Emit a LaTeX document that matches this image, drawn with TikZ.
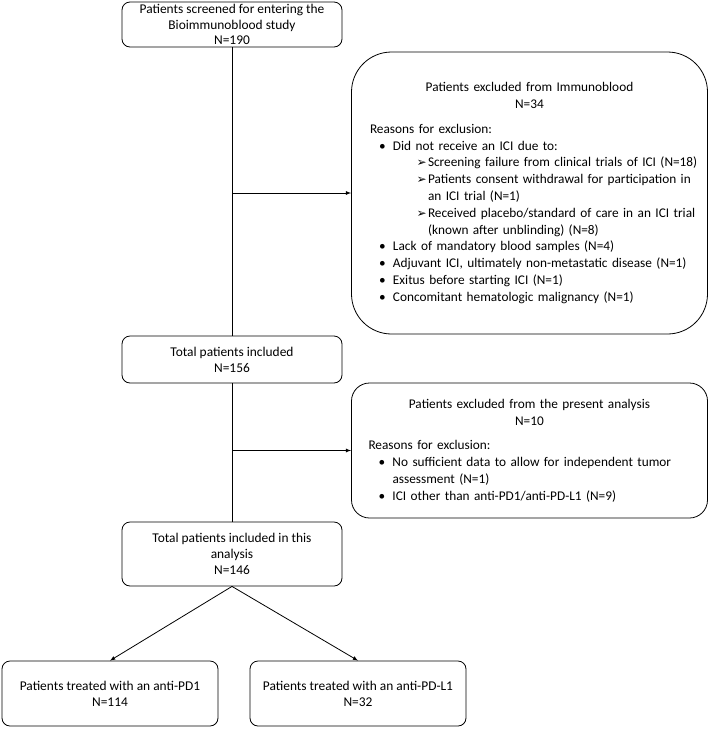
\documentclass[tikz,border=0pt]{standalone}
\usepackage{fontspec}
\setmainfont{Carlito}
\newfontfamily\symfont{DejaVu Sans}
\newcommand{\blt}{\makebox[14pt][l]{\textbullet}}
\newcommand{\arw}{\makebox[11.5pt][l]{\symfont\fontsize{12}{12}\selectfont ➢}}
\begin{document}
\begin{tikzpicture}[x=1pt, y=-1pt, line width=0.8pt,
    box/.style = {draw, rounded corners=8pt, align=center, minimum width=220pt, inner sep=1pt,
                  font=\fontsize{13.4}{16.2}\selectfont},
    excl/.style = {draw, align=left, inner xsep=4pt, inner ysep=0pt, text width=348pt,
                   font=\fontsize{13.3}{16.8}\selectfont},
    arr/.style = {-latex}]
\useasboundingbox (0,0) rectangle (709,729);
\node[box, minimum height=45pt, inner sep=0pt, font=\fontsize{13.4}{15.6}\selectfont] (scr) at (232,24.5) {Patients screened for entering the\\ Bioimmunoblood study\\ N=190};
\node[excl, rounded corners=40pt, minimum width=356pt, minimum height=282pt] (excl1) at (529.5,193) {%
{\centering Patients excluded from Immunoblood\\ N=34\par}
\vspace{8pt}
\hspace*{14.5pt}Reasons for exclusion:\\
\hspace*{23.5pt}\blt Did not receive an ICI due to:\\
\hspace*{61pt}\arw Screening failure from clinical trials of ICI (N=18)\\
\hspace*{61pt}\arw Patients consent withdrawal for participation in\\
\hspace*{72.5pt}an ICI trial (N=1)\\
\hspace*{61pt}\arw Received placebo/standard of care in an ICI trial\\
\hspace*{72.5pt}(known after unblinding) (N=8)\\
\hspace*{23.5pt}\blt Lack of mandatory blood samples (N=4)\\
\hspace*{23.5pt}\blt Adjuvant ICI, ultimately non-metastatic disease (N=1)\\
\hspace*{23.5pt}\blt Exitus before starting ICI (N=1)\\
\hspace*{23.5pt}\blt Concomitant hematologic malignancy (N=1)\par
\vspace*{5pt}};
\node[box, minimum height=47pt] (incl) at (232,359.5) {Total patients included\\ N=156};
\node[excl, rounded corners=18pt, minimum width=355pt, minimum height=135pt] (excl2) at (529.5,450.5) {%
{\centering Patients excluded from the present analysis\\ N=10\par}
\vspace{8pt}
\hspace*{13pt}Reasons for exclusion:\\
\hspace*{23pt}\blt No sufficient data to allow for independent tumor\\
\hspace*{37pt}assessment (N=1)\\
\hspace*{23pt}\blt ICI other than anti-PD1/anti-PD-L1 (N=9)\par
\vspace*{10pt}};
\node[box, minimum height=64pt] (ana) at (232,554) {Total patients included in this\\ analysis\\ N=146};
\node[box, minimum width=216pt, minimum height=65pt] (pd1) at (110,693.5) {Patients treated with an anti-PD1\\ N=114};
\node[box, minimum width=216pt, minimum height=65pt] (pdl1) at (358,693.5) {Patients treated with an anti-PD-L1\\ N=32};
% main flow
\draw (scr.south) -- (incl.north);
\draw (incl.south) -- (ana.north);
\draw[arr] (scr.south |- excl1.west) -- (excl1.west);
\draw[arr] (incl.south |- excl2.west) -- (excl2.west);
\draw[arr] (ana.south) -- (pd1.north);
\draw[arr] (ana.south) -- (pdl1.north);
\end{tikzpicture}
\end{document}
